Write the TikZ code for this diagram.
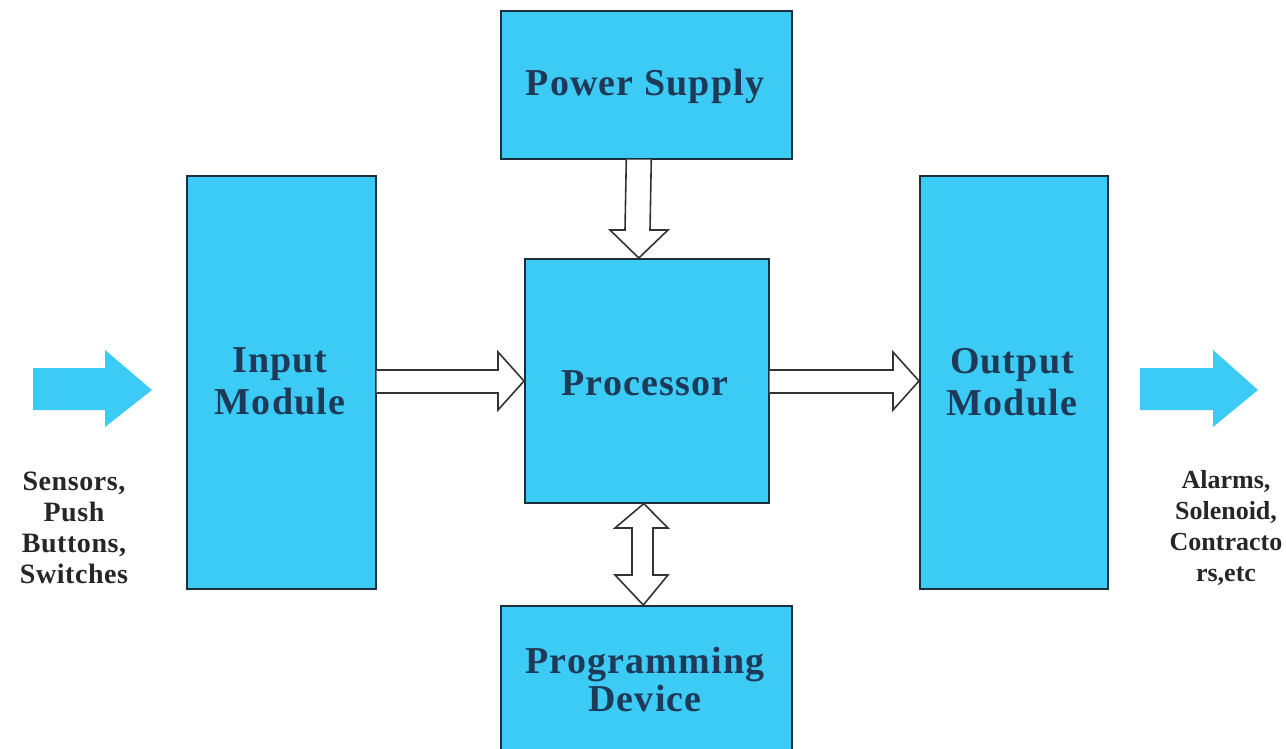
\documentclass[tikz,border=0pt]{standalone}
\usepackage{fontspec}
\setmainfont{Liberation Serif}
\usetikzlibrary{calc}
\definecolor{boxblue}{HTML}{3BCBF5}
\definecolor{boxline}{HTML}{1C2E3C}
\definecolor{navy}{HTML}{1F3A58}
\definecolor{arrline}{HTML}{333333}
\tikzset{
  blk/.style={draw=boxline, line width=1.6pt, fill=boxblue, inner sep=0pt, anchor=north west},
  blktext/.style={text=navy, font=\bfseries\addfontfeatures{LetterSpace=3}\fontsize{38}{42}\selectfont, align=center},
  sidetext/.style={text=black!85, font=\bfseries\addfontfeatures{LetterSpace=2}\fontsize{28}{31}\selectfont, align=center},
  hollow/.style={draw=arrline, line width=1.6pt, fill=white, line join=miter},
  bluearr/.style={fill=boxblue, draw=none}
}
\begin{document}
\begin{tikzpicture}[x=1pt,y=-1pt]
\useasboundingbox (0,0) rectangle (1286,748);
\fill[white] (0,0) rectangle (1286,748);
% boxes
\node[blk, minimum width=291pt, minimum height=148pt] (ps) at (500,10) {};
\node[blk, minimum width=189pt, minimum height=413pt] (in) at (186,175) {};
\node[blk, minimum width=244pt, minimum height=244pt] (proc) at (524,258) {};
\node[blk, minimum width=188pt, minimum height=413pt] (out) at (919,175) {};
\node[blk, minimum width=291pt, minimum height=150pt] (prog) at (500,605) {};
% texts
\node[blktext] (pst) at (645,86) {Power Supply};
\node[blktext] (int) at (280,381) {Input\\Module};
\node[blktext] (proct) at (645,383) {Processor};
\node[blktext] (outt) at (1012,382) {Output\\Module};
\node[blktext, font=\bfseries\addfontfeatures{LetterSpace=3}\fontsize{38}{38}\selectfont] (progt) at (645,679) {Programming\\Device};
\node[sidetext] (src) at (74,528) {Sensors,\\Push\\Buttons,\\Switches};
\node[sidetext, font=\bfseries\fontsize{26}{31}\selectfont] (dst) at (1226,528) {Alarms,\\Solenoid,\\Contracto\\rs,etc};
% hollow arrows
\draw[hollow] ($(in.east|-0,370)$) -- (498,370) -- (498,352) -- ($(proc.west|-0,381)$) -- (498,410) -- (498,393) -- ($(in.east|-0,393)$);
\draw[hollow] ($(proc.east|-0,370)$) -- (893,370) -- (893,352) -- ($(out.west|-0,381)$) -- (893,410) -- (893,393) -- ($(proc.east|-0,393)$);
\draw[hollow] ($(ps.south)+(-20,0)$) -- (625,230) -- (610,230) -- ($(proc.north)+(-8,0)$) -- (668,230) -- (650,230) -- ($(ps.south)+(5,0)$);
\draw[hollow] ($(proc.south)+(-3,0)$) -- (668,528) -- (653,528) -- (653,575) -- (668,575) -- ($(prog.north)+(-3,0)$) -- (615,575) -- (632,575) -- (632,528) -- (615,528) -- cycle;
% blue arrows
\coordinate (lt) at (152,390);
\coordinate (rt) at (1258,390);
\fill[bluearr] (33,368) -- (105,368) -- (105,350) -- (lt) -- (105,427) -- (105,410) -- (33,410) -- cycle;
\fill[bluearr] (1140,368) -- (1213,368) -- (1213,350) -- (rt) -- (1213,427) -- (1213,410) -- (1140,410) -- cycle;
\end{tikzpicture}
\end{document}
